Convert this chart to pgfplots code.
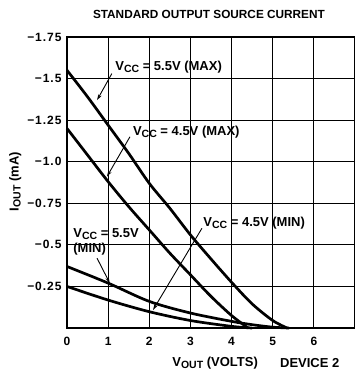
\documentclass[border=0pt]{standalone}
\usepackage{fontspec}
\setmainfont{Liberation Sans}[BoldFont={Liberation Sans Bold}]
\newfontfamily\tickfont{Liberation Sans Bold}[LetterSpace=8]
\usepackage{pgfplots}
\pgfplotsset{compat=1.18}
\usetikzlibrary{arrows.meta}
\newcommand{\sub}[1]{\raisebox{-0.3ex}{\fontsize{10.5}{11}\selectfont #1}}
\begin{document}
\begin{tikzpicture}[font=\bfseries\fontsize{13}{15}\selectfont]
\useasboundingbox (-67pt,-49pt) rectangle (288pt,328pt);
\begin{axis}[
  scale only axis, width=288pt, height=291pt,
  xmin=0, xmax=7, ymin=-1.75, ymax=0, y dir=reverse,
  xtick={0,1,2,3,4,5,6,7}, xticklabels={0,1,2,3,4,5,6,},
  ytick={-1.75,-1.5,-1.25,-1,-0.75,-0.5,-0.25},
  yticklabels={−1.75,−1.5,−1.25,−1.0,−0.75,−0.5,−0.25},
  grid=major, major grid style={black, line width=0.9pt},
  major tick length=0pt,
  axis line style={line width=1.6pt},
  tick label style={font=\tickfont\fontsize{12}{13}\selectfont},
  yticklabel style={xshift=-2pt},
  xticklabel style={yshift=-6pt},
  clip=false,
]
% Vcc = 5.5V (MAX)
\addplot[black, line width=2.7pt, smooth, tension=0.5] coordinates {
 (0,-1.55) (0.5,-1.39) (1,-1.22) (1.5,-1.05) (2,-0.87) (2.5,-0.72) (3,-0.56) (3.5,-0.415) (4,-0.275) (4.5,-0.145) (5,-0.045) (5.35,0)};
% Vcc = 4.5V (MAX)
\addplot[black, line width=2.7pt, smooth, tension=0.5] coordinates {
 (0,-1.2) (0.5,-1.04) (1,-0.88) (1.5,-0.73) (2,-0.59) (2.5,-0.45) (3,-0.32) (3.5,-0.19) (4,-0.075) (4.4,0)};
% Vcc = 5.5V (MIN)
\addplot[black, line width=2.7pt, smooth, tension=0.5] coordinates {
 (0,-0.37) (1,-0.27) (2,-0.16) (3,-0.09) (4,-0.04) (4.5,-0.02) (5,-0.005) (5.4,0)};
% Vcc = 4.5V (MIN)
\addplot[black, line width=2.7pt, smooth, tension=0.5] coordinates {
 (0,-0.25) (1,-0.168) (2,-0.098) (3,-0.045) (4,-0.01) (4.5,0)};

\node[anchor=west, inner sep=0pt] at (axis cs:1.17,-1.57) {V\sub{CC} = 5.5V (MAX)};
\node[anchor=west, inner sep=0pt] at (axis cs:1.60,-1.18) {V\sub{CC} = 4.5V (MAX)};
\node[anchor=west, inner sep=0pt, align=left] at (axis cs:0.15,-0.52) {V\sub{CC} = 5.5V\\[0pt](MIN)};
\node[anchor=west, inner sep=0pt] at (axis cs:3.31,-0.63) {V\sub{CC} = 4.5V (MIN)};

\draw[-{Stealth[length=6pt,width=3.5pt]}, line width=0.9pt] (axis cs:1.09,-1.53) -- (axis cs:0.73,-1.37);
\draw[-{Stealth[length=6pt,width=3.5pt]}, line width=0.9pt] (axis cs:1.53,-1.15) -- (axis cs:0.97,-0.91);
\draw[-{Stealth[length=6pt,width=3.5pt]}, line width=0.9pt] (axis cs:0.73,-0.42) -- (axis cs:1.04,-0.27);
\draw[-{Stealth[length=6pt,width=3.5pt]}, line width=0.9pt] (axis cs:3.28,-0.60) -- (axis cs:2.09,-0.108);

\node[font=\bfseries\fontsize{11.8}{13}\selectfont] at (axis cs:3.45,-1.888) {STANDARD OUTPUT SOURCE CURRENT};
\node at (axis cs:3.6,0.21) {V\sub{OUT} (VOLTS)};
\node at (axis cs:5.9,0.21) {DEVICE 2};
\node[rotate=90] at (axis cs:-1.26,-0.88) {I\sub{OUT} (mA)};
\end{axis}
\end{tikzpicture}
\end{document}
